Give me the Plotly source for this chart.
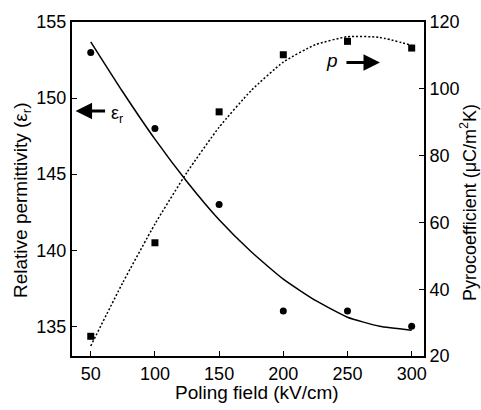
import plotly.graph_objects as go

# Measured data
field = [50, 100, 150, 200, 250, 300]
eps_r = [153.0, 148.0, 143.0, 136.0, 136.0, 135.0]
pyro = [25.9, 53.9, 93.1, 110.2, 114.2, 112.2]

# Fitted trend curves
fit_x = [50, 75, 100, 125, 150, 175, 200, 225, 250, 275, 300]
eps_fit = [153.7, 150.4, 147.3, 144.5, 142.0, 139.9, 138.1, 136.7, 135.6, 135.0, 134.75]
pyro_fit = [23.0, 42.0, 59.5, 75.0, 88.5, 99.5, 108.0, 113.2, 115.6, 115.4, 113.0]

x_ticks = [50, 100, 150, 200, 250, 300]
left_ticks = [135, 140, 145, 150, 155]
right_ticks = [20, 40, 60, 80, 100, 120]

FONT = "Liberation Sans, Arial, Helvetica, sans-serif"

fig = go.Figure()
fig.add_trace(go.Scatter(x=fit_x, y=eps_fit, mode="lines",
                         line=dict(color="black", width=1.5, shape="spline", smoothing=0.5),
                         showlegend=False, hoverinfo="skip"))
fig.add_trace(go.Scatter(x=field, y=eps_r, mode="markers", marker=dict(symbol="circle", size=7, color="black"),
                         showlegend=False))
fig.add_trace(go.Scatter(x=fit_x, y=pyro_fit, mode="lines", yaxis="y2",
                         line=dict(color="black", width=1.5, dash="2px,2px", shape="spline", smoothing=0.5),
                         showlegend=False, hoverinfo="skip"))
fig.add_trace(go.Scatter(x=field, y=pyro, mode="markers", yaxis="y2",
                         marker=dict(symbol="square", size=7, color="black"), showlegend=False))

axis_common = dict(showline=True, linecolor="black", linewidth=2, ticks="inside", ticklen=5,
                   tickwidth=1, tickcolor="black", showgrid=False, zeroline=False,
                   tickfont=dict(family=FONT, size=18, color="black"), automargin=False)

fig.update_layout(
    width=481, height=410,
    margin=dict(l=72, r=57, t=22, b=54, autoexpand=False),
    paper_bgcolor="white", plot_bgcolor="white",
    font=dict(family=FONT, size=18, color="black"),
    xaxis=dict(range=[35.4, 309.6], tickvals=x_ticks, mirror=True, **axis_common),
    yaxis=dict(range=[133.05, 155], tickvals=left_ticks, **axis_common),
    yaxis2=dict(range=[20, 120], tickvals=right_ticks, overlaying="y", side="right", **axis_common),
    annotations=[
        dict(text="Poling field (kV/cm)", xref="paper", yref="paper", x=0.5256, y=-0.108,
             xanchor="center", yanchor="middle", showarrow=False, font=dict(size=19)),
        dict(text="Relative permittivity (ε<sub>r</sub>)", xref="paper", yref="paper", x=0, xshift=-50,
             y=0.467, xanchor="center", yanchor="middle", textangle=-90, showarrow=False, font=dict(size=19)),
        dict(text="Pyrocoefficient (μC/m<sup>2</sup>K)", xref="paper", yref="paper", x=1, xshift=44,
             y=0.458, xanchor="center", yanchor="middle", textangle=-90, showarrow=False, font=dict(size=18)),
        # epsilon_r arrow (pointing left)
        dict(x=38.2, y=149.15, xref="x", yref="y", ax=31, ay=0, axref="pixel", ayref="pixel",
             showarrow=True, arrowhead=2, arrowsize=1.1, arrowwidth=3, arrowcolor="black", text=""),
        dict(text="ε<sub>r</sub>", x=64.0, y=148.9, xref="x", yref="y", xanchor="left", yanchor="middle",
             showarrow=False, font=dict(size=18)),
        # p arrow (pointing right)
        dict(x=275.3, y=107.9, xref="x", yref="y2", ax=-35, ay=0, axref="pixel", ayref="pixel",
             showarrow=True, arrowhead=2, arrowsize=1.1, arrowwidth=3, arrowcolor="black", text=""),
        dict(text="<i>p</i>", x=238.0, y=108.5, xref="x", yref="y2", xanchor="center", yanchor="middle",
             showarrow=False, font=dict(size=19)),
    ],
)

fig.write_html("out.html")
